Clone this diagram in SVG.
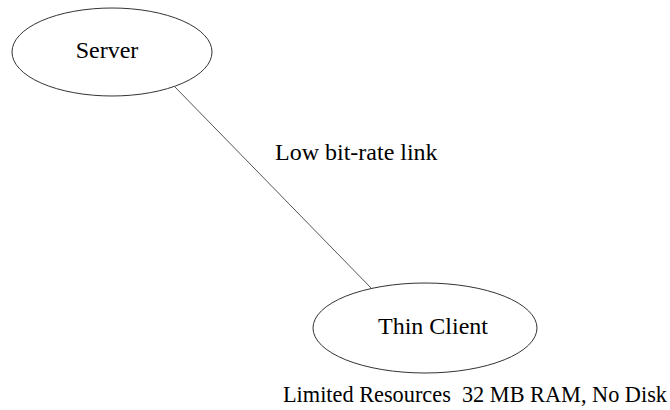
<svg xmlns="http://www.w3.org/2000/svg" width="670" height="410" viewBox="0 0 670 410">
<style>
.node ellipse{fill:#fff;stroke:#333;stroke-width:1}
text{font-family:"Liberation Serif","Times New Roman",serif;fill:#000}
.lbl{font-size:24px}
.conn line{stroke:#555;stroke-width:1}
</style>
<rect width="670" height="410" fill="#fff"/>
<g class="conn" id="connectors">
<line x1="175" y1="87" x2="373" y2="290"/>
</g>
<g class="node" id="server">
<ellipse cx="112" cy="52" rx="100" ry="44"/>
<text class="lbl" x="107" y="58" text-anchor="middle">Server</text>
</g>
<g class="node" id="thin-client">
<ellipse cx="425" cy="328" rx="112" ry="45"/>
<text class="lbl" x="433" y="334" text-anchor="middle">Thin Client</text>
</g>
<text id="link-label" x="275" y="160" font-size="24">Low bit-rate link</text>
<text id="resources" x="283" y="402" font-size="22.3" xml:space="preserve">Limited Resources  32 MB RAM, No Disk</text>
</svg>
